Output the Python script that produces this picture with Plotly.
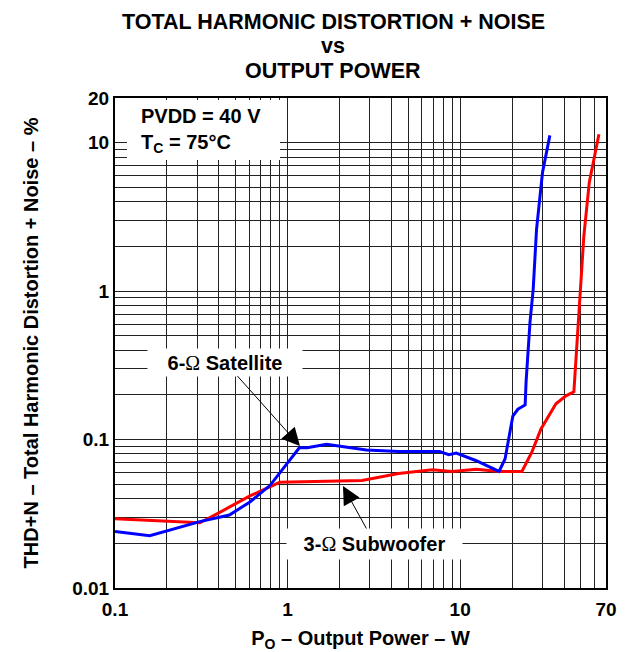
import plotly.graph_objects as go

# ---- data ----
sub_x = [0.1, 0.31, 0.39, 0.605, 0.90, 2.7, 4.4, 6.9, 9.0, 12.4, 16.8, 22.8, 26.1, 29.4, 35.9, 41.0, 45.6, 48.3, 52.1, 56.0, 59.0, 63.7]
sub_y = [0.0293, 0.0275, 0.0316, 0.0417, 0.0515, 0.053, 0.059, 0.0625, 0.061, 0.063, 0.061, 0.061, 0.083, 0.118, 0.174, 0.197, 0.21, 0.615, 2.36, 5.4, 7.4, 11.4]

sat_x = [0.1, 0.159, 0.31, 0.46, 0.605, 0.79, 1.17, 1.3, 1.68, 2.86, 4.4, 7.6, 8.6, 9.5, 12.4, 16.8, 18.2, 20.2, 21.6, 23.8, 24.1, 25.4, 26.5, 27.7, 30.0, 31.7, 33.1]
sat_y = [0.024, 0.0225, 0.028, 0.031, 0.038, 0.049, 0.088, 0.088, 0.093, 0.085, 0.083, 0.083, 0.079, 0.081, 0.072, 0.061, 0.074, 0.144, 0.16, 0.171, 0.245, 0.62, 1.03, 2.6, 6.3, 8.6, 11.2]

x_ticks = [0.1, 1, 10, 70]
x_tick_text = ["0.1", "1", "10", "70"]
y_ticks = [0.01, 0.1, 1, 10, 20]
y_tick_text = ["0.01", "0.1", "1", "10", "20"]

x_minor = [m * d for d in (0.1, 1, 10) for m in range(2, 10) if m * d <= 70]
y_minor = [m * d for d in (0.01, 0.1, 1) for m in range(2, 10)]

FONT = "Liberation Sans, Arial, sans-serif"
TXT = dict(family=FONT, size=20, color="black", weight="bold")
TTL = dict(family=FONT, size=21.5, color="black", weight="bold")
OMEGA = "<span style='font-family:Liberation Serif;font-weight:normal'>Ω</span>"

fig = go.Figure()
fig.add_trace(go.Scatter(x=sub_x, y=sub_y, mode="lines",
                         line=dict(color="#FF0000", width=3), showlegend=False))
fig.add_trace(go.Scatter(x=sat_x, y=sat_y, mode="lines",
                         line=dict(color="#0000FF", width=3), showlegend=False))

# page has an 8px body margin; figure is sized so the plot lands at page px 115..606, 98..588
OFF = 8
W, H = 620, 644
L, R, T, B = 107, 22, 90, 64
pw, ph = W - L - R, H - T - B

def px_x(p):
    return (p - OFF - L) / pw

def px_y(p):
    return (H - B - (p - OFF)) / ph

axis_common = dict(
    type="log", showline=True, linecolor="black", linewidth=2, mirror=True,
    showgrid=True, gridcolor="#222", gridwidth=1, ticks="", zeroline=False,
    automargin=False,
    tickfont=dict(family=FONT, size=19, color="black", weight="bold"),
)

fig.update_xaxes(
    **axis_common,
    range=[-1, 1.845098], tickmode="array", tickvals=x_ticks, ticktext=x_tick_text,
    ticklabelstandoff=3,
    minor=dict(tickmode="array", tickvals=x_minor, showgrid=True, gridcolor="#222", gridwidth=1, ticks=""),
    title=dict(text="P<sub>O</sub> – Output Power – W", font=TXT, standoff=12),
)
fig.update_yaxes(
    **axis_common,
    range=[-2, 1.30103], tickmode="array", tickvals=y_ticks, ticktext=y_tick_text,
    minor=dict(tickmode="array", tickvals=y_minor, showgrid=True, gridcolor="#222", gridwidth=1, ticks=""),
    title=dict(text="THD+N – Total Harmonic Distortion + Noise – %", font=TXT, standoff=28),
)

annotations = []
title_lines = [("TOTAL HARMONIC DISTORTION + NOISE", 22), ("vs", 46), ("OUTPUT POWER", 71)]
for txt, py in title_lines:
    annotations.append(dict(text=txt, xref="paper", yref="paper", x=px_x(333), y=px_y(py),
                            xanchor="center", yanchor="middle", showarrow=False, font=TTL))

annotations.append(dict(
    text="PVDD = 40 V<br>T<sub>C</sub> = 75°C", xref="paper", yref="paper",
    x=px_x(139), y=px_y(103), xanchor="left", yanchor="top", showarrow=False,
    align="left", font=TXT))

annotations.append(dict(
    text="6-" + OMEGA + " Satellite", x=0.0719, y=-1.044, xref="x", yref="y",
    ax=-75, ay=-84, showarrow=True, arrowhead=2, arrowsize=3.6, arrowwidth=1,
    arrowcolor="black", bgcolor="white", width=146, height=19, borderpad=4, font=TXT))

annotations.append(dict(
    text="3-" + OMEGA + " Subwoofer", x=0.321, y=-1.313, xref="x", yref="y",
    ax=32, ay=58, showarrow=True, arrowhead=2, arrowsize=3.6, arrowwidth=1,
    arrowcolor="black", bgcolor="white", width=167, height=22, borderpad=4, font=TXT))

shapes = [dict(type="rect", xref="paper", yref="paper",
               x0=px_x(127), x1=px_x(280), y0=px_y(160), y1=px_y(100),
               fillcolor="white", line=dict(width=0), layer="above")]

fig.update_layout(
    width=W, height=H, margin=dict(l=L, r=R, t=T, b=B),
    paper_bgcolor="white", plot_bgcolor="white",
    annotations=annotations, shapes=shapes, showlegend=False,
)

fig.write_html("out.html")
